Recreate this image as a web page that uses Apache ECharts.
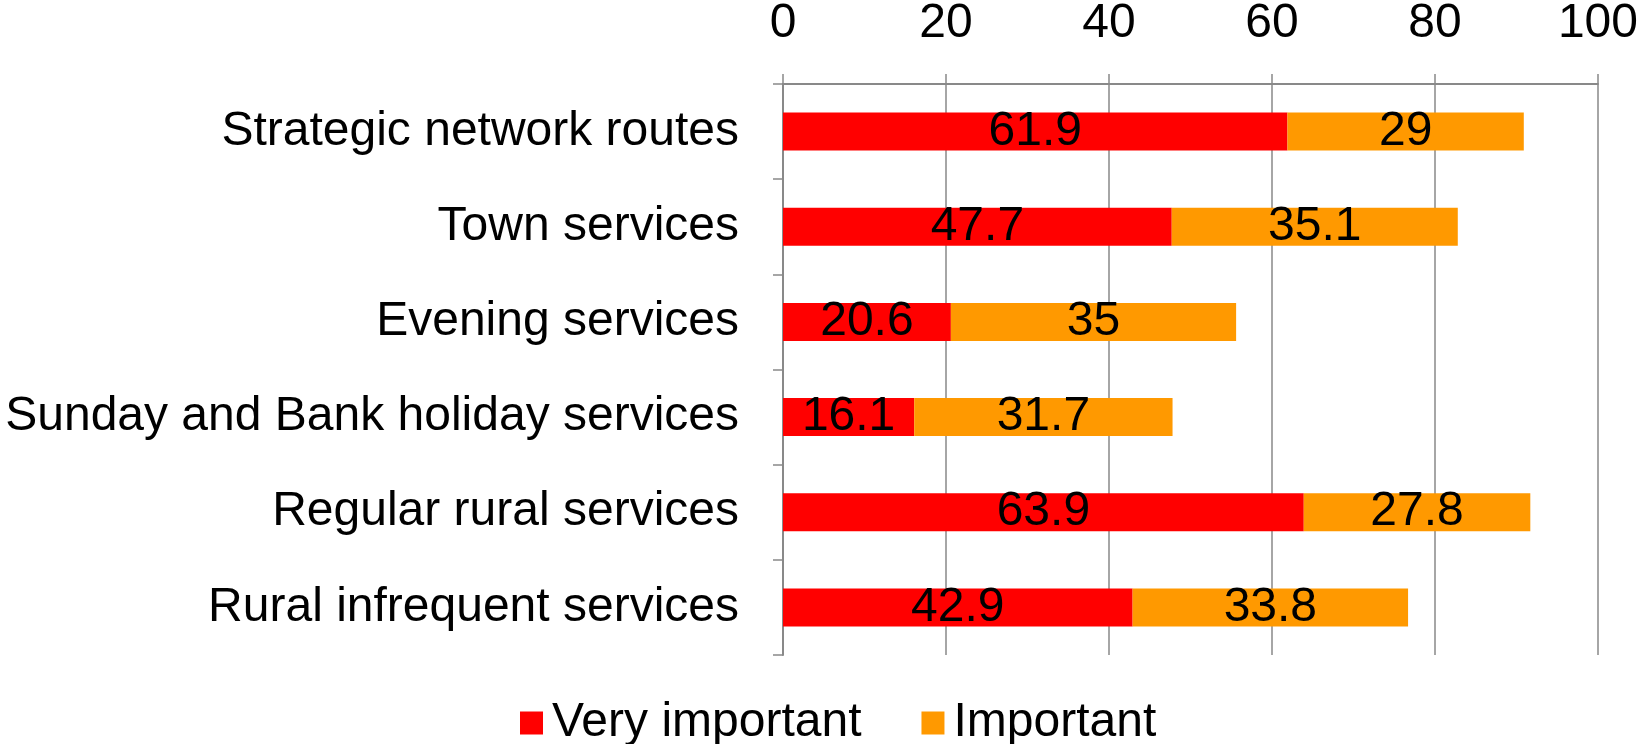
<!DOCTYPE html>
<html>
<head>
<meta charset="utf-8">
<script src="https://cdn.jsdelivr.net/npm/echarts@6/dist/echarts.min.js"></script>
<style>
  html, body { margin: 0; padding: 0; background: #fff; }
  #chart { width: 1641px; height: 744px; }
</style>
</head>
<body>
<div id="chart"></div>
<script>
// survey categories, top to bottom
const categories = [
  'Strategic network routes',
  'Town services',
  'Evening services',
  'Sunday and Bank holiday services',
  'Regular rural services',
  'Rural infrequent services'
];
const veryImportant = [61.9, 47.7, 20.6, 16.1, 63.9, 42.9];
const important = [29, 35.1, 35, 31.7, 27.8, 33.8];
const xTicks = [0, 20, 40, 60, 80, 100];

const FONT = '"Liberation Sans", Arial, sans-serif';
const GRID = '#898989';
const FS = 48;

const chart = echarts.init(document.getElementById('chart'));

const labelStyle = {
  show: true,
  position: 'inside',
  color: '#000',
  fontSize: FS,
  fontFamily: FONT
};

const option = {
  animation: false,
  textStyle: { fontFamily: FONT },
  grid: { left: 783, right: 42, top: 82, bottom: 89, containLabel: false },
  legend: {
    top: 694,
    left: 515,
    itemWidth: 23,
    itemHeight: 23,
    itemGap: 60,
    icon: 'rect',
    textStyle: { fontSize: FS, color: '#000', fontFamily: FONT, padding: [0, 0, 0, 4] },
    data: ['Very important', 'Important']
  },
  xAxis: {
    type: 'value',
    position: 'top',
    min: xTicks[0],
    max: xTicks[xTicks.length - 1],
    interval: 20,
    axisLine: { show: true, lineStyle: { color: GRID, width: 2 } },
    axisTick: { show: true, length: 10, lineStyle: { color: GRID, width: 1.5 } },
    splitLine: { show: true, lineStyle: { color: GRID, width: 1.5 } },
    axisLabel: { color: '#000', fontSize: FS, margin: 36, fontFamily: FONT }
  },
  yAxis: {
    type: 'category',
    inverse: true,
    data: categories,
    axisLine: { show: true, lineStyle: { color: GRID, width: 2 } },
    axisTick: { show: true, length: 10, lineStyle: { color: GRID, width: 1.5 } },
    axisLabel: { color: '#000', fontSize: FS, margin: 44, fontFamily: FONT }
  },
  series: [
    {
      name: 'Very important',
      type: 'bar',
      stack: 'total',
      barWidth: 38,
      itemStyle: { color: '#FF0000' },
      label: labelStyle,
      data: veryImportant
    },
    {
      name: 'Important',
      type: 'bar',
      stack: 'total',
      barWidth: 38,
      itemStyle: { color: '#FF9900' },
      label: labelStyle,
      data: important
    }
  ]
};

chart.setOption(option);
</script>
</body>
</html>
